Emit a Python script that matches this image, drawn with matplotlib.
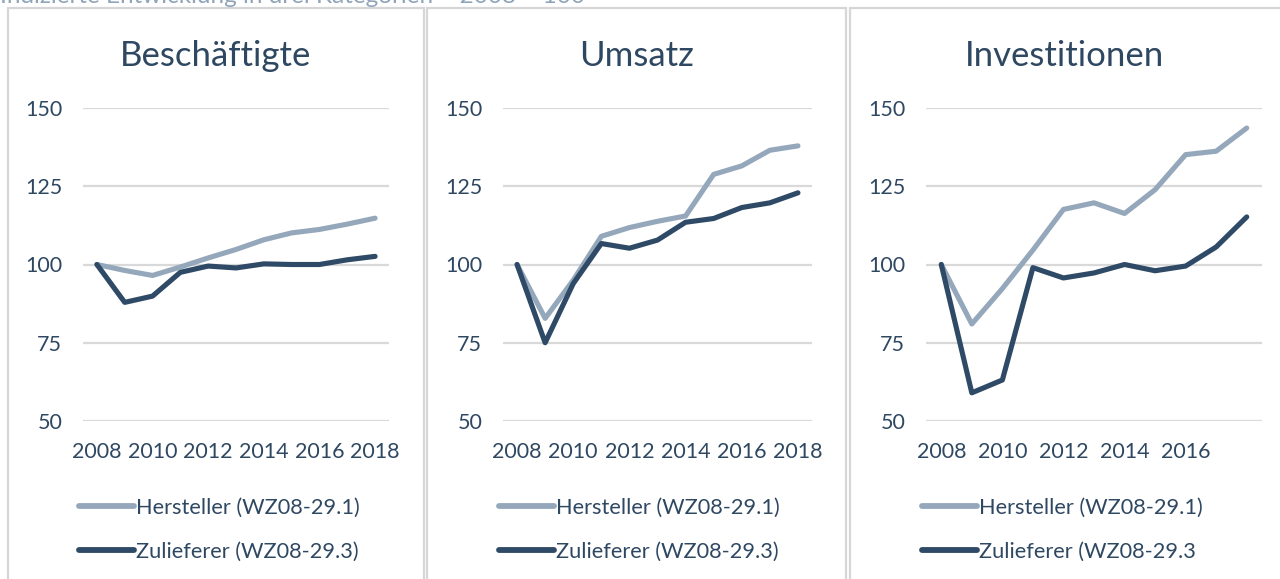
import matplotlib
matplotlib.use("Agg")
import matplotlib.pyplot as plt
from matplotlib.patches import Rectangle

plt.rcParams['font.family'] = ['Lato', 'DejaVu Sans']

years = list(range(2008, 2019))

besch_hersteller = [100, 98.1, 96.5, 99.2, 102.1, 104.8, 107.9, 110.1, 111.2, 112.9, 114.8]
besch_zulieferer = [100, 87.9, 89.9, 97.5, 99.5, 98.9, 100.2, 100.0, 100.0, 101.5, 102.6]

umsatz_hersteller = [100, 82.8, 95.0, 109.0, 111.8, 113.8, 115.5, 128.8, 131.5, 136.5, 137.9]
umsatz_zulieferer = [100, 75.0, 93.9, 106.7, 105.2, 107.8, 113.5, 114.7, 118.2, 119.7, 122.9]

invest_hersteller = [100, 81.0, 92.3, 104.6, 117.6, 119.7, 116.3, 123.9, 135.1, 136.2, 143.6]
invest_zulieferer = [100, 59.0, 63.1, 99.0, 95.7, 97.3, 100.0, 98.0, 99.5, 105.6, 115.2]

titles = ["Beschäftigte", "Umsatz", "Investitionen"]
label_hersteller = ["Hersteller (WZ08-29.1)"] * 3
label_zulieferer = ["Zulieferer (WZ08-29.3)", "Zulieferer (WZ08-29.3)", "Zulieferer (WZ08-29.3"]
xtick_sets = [[2008, 2010, 2012, 2014, 2016, 2018],
              [2008, 2010, 2012, 2014, 2016, 2018],
              [2008, 2010, 2012, 2014, 2016]]
yticks = [50, 75, 100, 125, 150]
subtitle = "Indizierte Entwicklung in drei Kategorien – 2008 = 100"

series = [(besch_hersteller, besch_zulieferer),
          (umsatz_hersteller, umsatz_zulieferer),
          (invest_hersteller, invest_zulieferer)]

W, H = 1280, 579
fig = plt.figure(figsize=(W / 100, H / 100), dpi=100)

LIGHT = '#95A8BB'
DARK = '#2E4A66'
TEXT = '#2F4862'
GRID = '#D9D9D9'
BORDER = '#D6D6D6'

def fx(px):
    return px / W

def fy(py):
    return 1 - py / H

# panel borders (pixel extents)
panels = [(8, 424), (427, 846), (850, 1290)]
for (l, r) in panels:
    fig.patches.append(Rectangle((fx(l), fy(600)), fx(r - l), fy(8) - fy(600),
                                 transform=fig.transFigure, fill=False,
                                 edgecolor=BORDER, linewidth=1.6, zorder=0))

fig.text(fx(0), fy(3), subtitle, color='#8FA4B9', fontsize=17.5, va='baseline', ha='left')

axes_px = [(83, 389), (503, 812), (926, 1262)]
ytop, ybot = 108, 421

for i, ((l, r), (h, z)) in enumerate(zip(axes_px, series)):
    ax = fig.add_axes([fx(l), fy(ybot), fx(r - l), fy(ytop) - fy(ybot)])
    ax.plot(years, h, color=LIGHT, lw=3.7, solid_capstyle='round', solid_joinstyle='round',
            label=label_hersteller[i])
    ax.plot(years, z, color=DARK, lw=3.7, solid_capstyle='round', solid_joinstyle='round',
            label=label_zulieferer[i])
    ax.set_xlim(2007.5, 2018.5)
    ax.set_ylim(50, 150)
    ax.set_yticks(yticks)
    ax.set_xticks(xtick_sets[i])
    ax.grid(axis='y', color=GRID, lw=1.6)
    ax.set_axisbelow(True)
    for s in ax.spines.values():
        s.set_visible(False)
    ax.tick_params(axis='both', length=0, labelsize=15.5, labelcolor=TEXT)
    ax.tick_params(axis='y', pad=15)
    ax.tick_params(axis='x', pad=15)
    pl, pr = panels[i]
    if i == 2:
        pr = 1280
    fig.text(fx((pl + pr) / 2), fy(56), titles[i], color=TEXT, fontsize=25,
             ha='center', va='center')
    leg = ax.legend(loc='center left', bbox_to_anchor=(fx(l - 4), fy(530)),
                    bbox_transform=fig.transFigure, frameon=False,
                    fontsize=15.7, handlelength=2.5, handletextpad=0.12,
                    labelspacing=1.1, borderpad=0, borderaxespad=0)
    for t in leg.get_texts():
        t.set_color(TEXT)
    for ln in leg.get_lines():
        ln.set_linewidth(4.2)

fig.savefig('out.png', dpi=100)
